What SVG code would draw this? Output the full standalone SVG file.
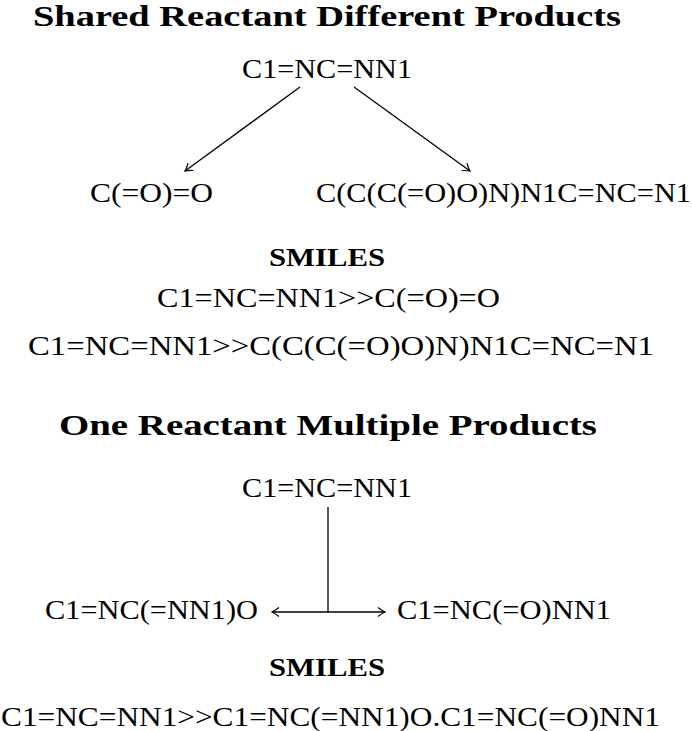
<svg xmlns="http://www.w3.org/2000/svg" width="692" height="731" viewBox="0 0 692 731">
<style>
text{font-family:"Liberation Serif","DejaVu Serif",serif;fill:#000;}
.t{font-size:29px;font-weight:bold;}
.n{font-size:28px;}
.h{font-size:25px;font-weight:bold;}
.c{stroke:#000;stroke-width:1.3;fill:none;}
</style>
<defs>
<marker id="ah" viewBox="-10 -6 12 12" markerWidth="12" markerHeight="12" refX="0" refY="0" orient="auto" markerUnits="userSpaceOnUse">
<path d="M-7,-4.5 Q-2.5,-1 0,0 Q-2.5,1 -7,4.5" stroke="#000" stroke-width="1.2" fill="none"/>
</marker>
</defs>
<rect width="692" height="731" fill="#fff"/>
<g id="title1"><text class="t" x="33" y="26" textLength="588" lengthAdjust="spacingAndGlyphs">Shared Reactant Different Products</text></g>
<g id="reactant1"><text class="n" x="242" y="78" textLength="170" lengthAdjust="spacingAndGlyphs">C1=NC=NN1</text></g>
<g id="product1a"><text class="n" x="90" y="202" textLength="123" lengthAdjust="spacingAndGlyphs">C(=O)=O</text></g>
<g id="product1b"><text class="n" x="316" y="202" textLength="375" lengthAdjust="spacingAndGlyphs">C(C(C(=O)O)N)N1C=NC=N1</text></g>
<g id="smiles1">
<text class="h" x="269" y="266" textLength="116" lengthAdjust="spacingAndGlyphs">SMILES</text>
<text class="n" x="157" y="307" textLength="343" lengthAdjust="spacingAndGlyphs">C1=NC=NN1&gt;&gt;C(=O)=O</text>
<text class="n" x="28" y="355" textLength="626" lengthAdjust="spacingAndGlyphs">C1=NC=NN1&gt;&gt;C(C(C(=O)O)N)N1C=NC=N1</text>
</g>
<g id="title2"><text class="t" x="59" y="435" textLength="538" lengthAdjust="spacingAndGlyphs">One Reactant Multiple Products</text></g>
<g id="reactant2"><text class="n" x="242" y="497" textLength="170" lengthAdjust="spacingAndGlyphs">C1=NC=NN1</text></g>
<g id="product2a"><text class="n" x="45" y="619" textLength="213" lengthAdjust="spacingAndGlyphs">C1=NC(=NN1)O</text></g>
<g id="product2b"><text class="n" x="397" y="619" textLength="214" lengthAdjust="spacingAndGlyphs">C1=NC(=O)NN1</text></g>
<g id="smiles2">
<text class="h" x="269" y="676" textLength="116" lengthAdjust="spacingAndGlyphs">SMILES</text>
<text class="n" x="1" y="726" textLength="659" lengthAdjust="spacingAndGlyphs">C1=NC=NN1&gt;&gt;C1=NC(=NN1)O.C1=NC(=O)NN1</text>
</g>
<g id="connectors">
<line class="c" x1="300" y1="87" x2="185" y2="171" marker-end="url(#ah)"/>
<line class="c" x1="354" y1="87" x2="470" y2="171" marker-end="url(#ah)"/>
<line class="c" x1="328" y1="507" x2="328" y2="612"/>
<line class="c" x1="328" y1="612" x2="272" y2="612" marker-end="url(#ah)"/>
<line class="c" x1="328" y1="612" x2="385" y2="612" marker-end="url(#ah)"/>
</g>
</svg>
